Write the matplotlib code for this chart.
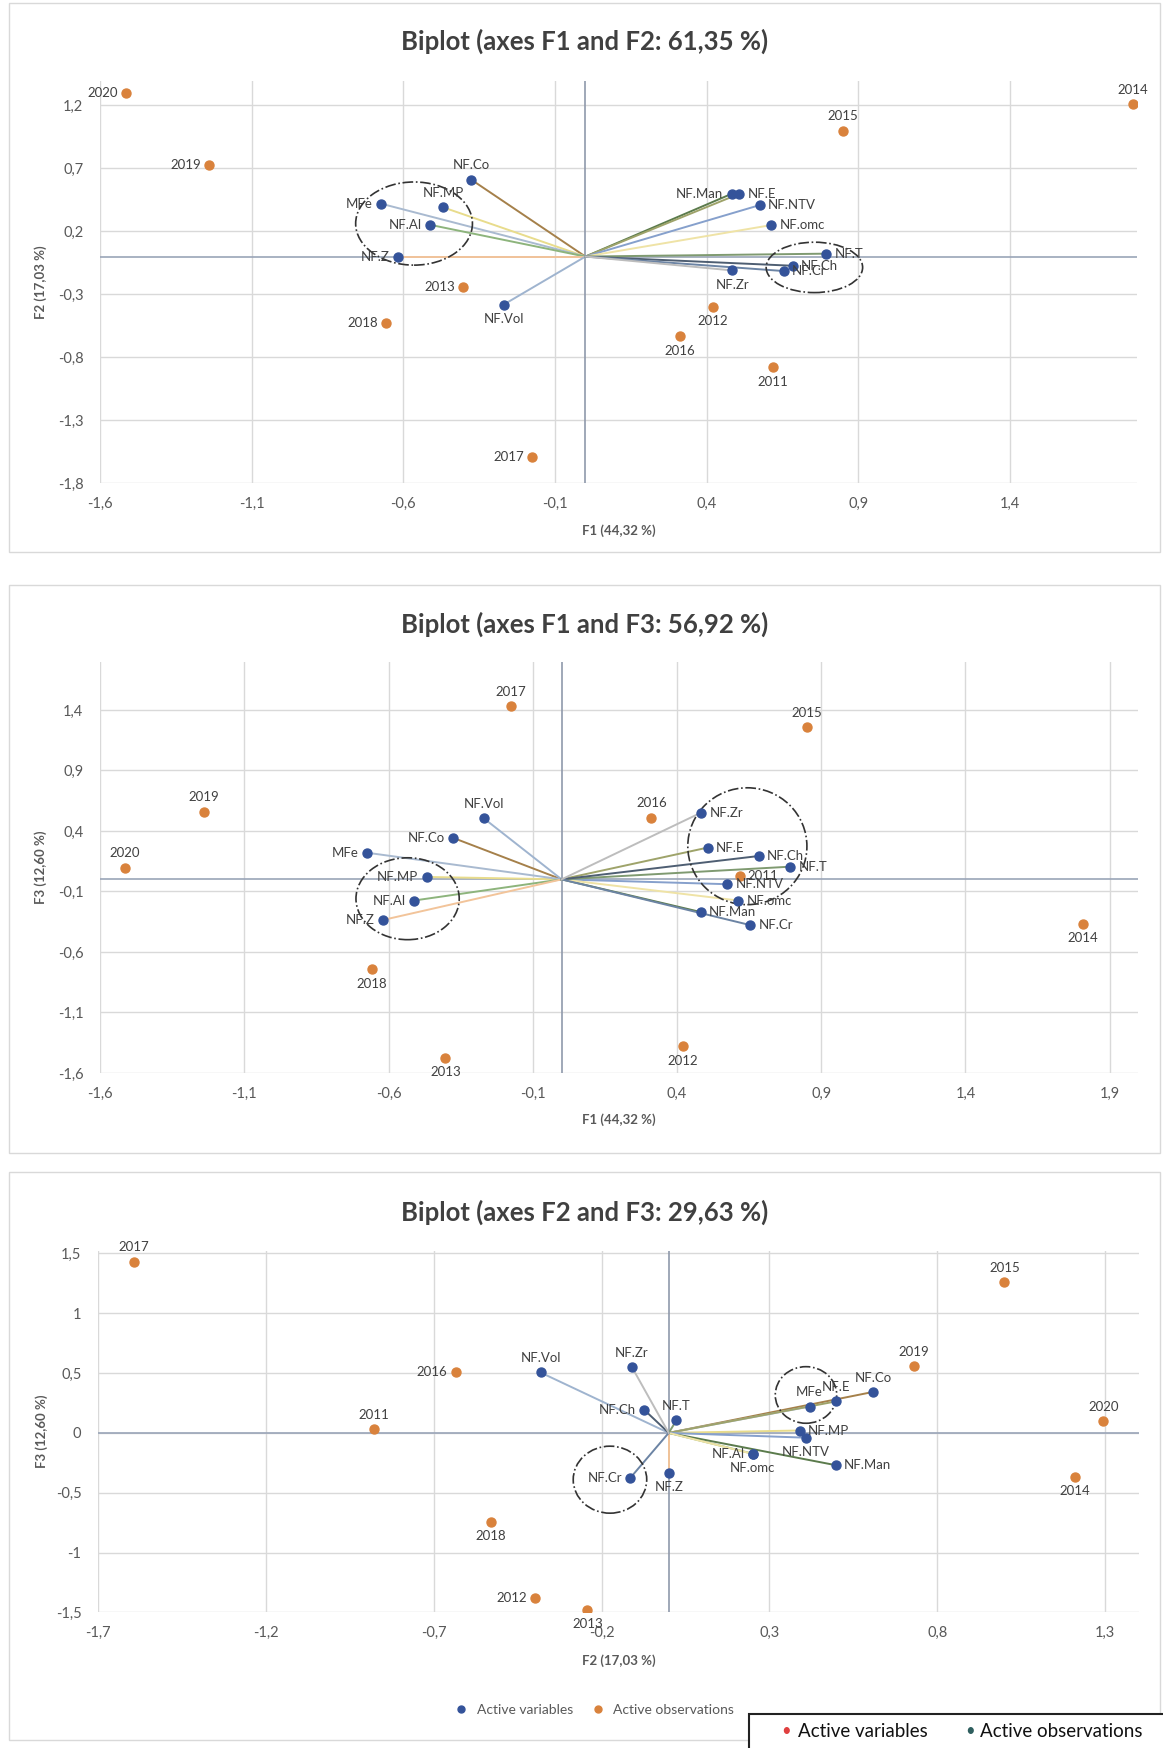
import numpy as np
import matplotlib
matplotlib.use("Agg")
import matplotlib.pyplot as plt
from matplotlib.patches import Ellipse, Rectangle
from matplotlib.lines import Line2D

plt.rcParams['font.family'] = ['Lato', 'DejaVu Sans']

# observations (years) on F1, F2, F3
obs = ['2011', '2012', '2013', '2014', '2015', '2016', '2017', '2018', '2019', '2020']
obs_f1 = [0.617, 0.420, -0.403, 1.806, 0.850, 0.311, -0.176, -0.657, -1.240, -1.515]
obs_f2 = [-0.879, -0.397, -0.242, 1.210, 1.000, -0.634, -1.594, -0.530, 0.730, 1.295]
obs_f3 = [0.030, -1.380, -1.478, -0.370, 1.258, 0.510, 1.430, -0.745, 0.560, 0.096]

# variables on F1, F2, F3
var = ['NF.Co', 'NF.MP', 'MFe', 'NF.Al', 'NF.Z', 'NF.Vol', 'NF.Man',
       'NF.E', 'NF.NTV', 'NF.omc', 'NF.T', 'NF.Ch', 'NF.Cr', 'NF.Zr']
var_f1 = [-0.376, -0.468, -0.674, -0.512, -0.618, -0.270, 0.482,
          0.507, 0.574, 0.613, 0.793, 0.683, 0.654, 0.484]
var_f2 = [0.610, 0.390, 0.420, 0.252, 0.000, -0.382, 0.498,
          0.498, 0.408, 0.250, 0.023, -0.073, -0.115, -0.110]
var_f3 = [0.343, 0.020, 0.220, -0.175, -0.335, 0.505, -0.270,
          0.263, -0.040, -0.175, 0.105, 0.193, -0.378, 0.552]

var_colors = ['#a5804a', '#e8dc8c', '#a9bad0', '#8db47c', '#f2c49a', '#9fb4cf', '#5b7b4c',
              '#9ea36a', '#86a0cc', '#efe3a6', '#7f9a70', '#4e5e72', '#6c84a4', '#bdbdbd']

blue = '#34539a'
orange = '#d9823c'
txt = '#404040'
grid = '#d9d9d9'

# label placement per panel: l / r / t / b
lab1 = {'2020': 'l', '2019': 'l', '2014': 't', '2015': 't', '2013': 'l', '2018': 'l',
        '2012': 'b', '2016': 'b', '2011': 'b', '2017': 'l',
        'NF.Co': 't', 'NF.MP': 't', 'MFe': 'l', 'NF.Al': 'l', 'NF.Z': 'l', 'NF.Vol': 'b',
        'NF.Man': 'l', 'NF.E': 'r', 'NF.NTV': 'r', 'NF.omc': 'r', 'NF.T': 'r',
        'NF.Ch': 'r', 'NF.Cr': 'r', 'NF.Zr': 'b'}
lab2 = {'2017': 't', '2015': 't', '2019': 't', '2016': 't', '2020': 't', '2011': 'r',
        '2014': 'b', '2018': 'b', '2012': 'b', '2013': 'b',
        'NF.Vol': 't', 'NF.Co': 'l', 'MFe': 'l', 'NF.MP': 'l', 'NF.Al': 'l', 'NF.Z': 'l',
        'NF.Zr': 'r', 'NF.E': 'r', 'NF.Ch': 'r', 'NF.T': 'r', 'NF.NTV': 'r',
        'NF.omc': 'r', 'NF.Man': 'r', 'NF.Cr': 'r'}
lab3 = {'2017': 't', '2016': 'l', '2011': 't', '2015': 't', '2019': 't', '2020': 't',
        '2014': 'b', '2018': 'b', '2012': 'l', '2013': 'b',
        'NF.Vol': 't', 'NF.Zr': 't', 'NF.Ch': 'l', 'NF.T': 't', 'NF.Cr': 'l', 'NF.Z': 'b',
        'NF.Al': 'l', 'NF.omc': 'b', 'MFe': 't', 'NF.E': 't', 'NF.Co': 't',
        'NF.MP': 'r', 'NF.NTV': 'b', 'NF.Man': 'r'}

offs = {'l': ((-6, 0), 'right', 'center'), 'r': ((6, 0), 'left', 'center'),
        't': ((0, 6), 'center', 'bottom'), 'b': ((0, -6), 'center', 'top')}


def fmt(v):
    return '{:g}'.format(round(v, 2)).replace('.', ',')


def biplot(ax, ox, oy, vx, vy, labs, xlim, ylim, xlabel, ylabel, ellipses, xlab_y, ylab_x):
    ax.set_xlim(*xlim)
    ax.set_ylim(*ylim)
    xt = np.round(np.arange(xlim[0], xlim[1] + 1e-6, 0.5), 2)
    yt = np.round(np.arange(ylim[0], ylim[1] + 1e-6, 0.5), 2)
    ax.set_xticks(xt)
    ax.set_yticks(yt)
    ax.set_xticklabels([fmt(v) for v in xt])
    ax.set_yticklabels([fmt(v) for v in yt])
    ax.tick_params(length=0, labelsize=10.5, labelcolor='#595959')
    ax.tick_params(axis='x', pad=10)
    ax.tick_params(axis='y', pad=12)
    for s in ax.spines.values():
        s.set_visible(False)
    ax.grid(True, color=grid, lw=1)
    ax.set_axisbelow(True)
    ax.axhline(0, color='#9aa5b8', lw=1.2, zorder=1)
    ax.axvline(0, color='#8f99ab', lw=1.2, zorder=1)

    for x, y, c in zip(vx, vy, var_colors):
        ax.plot([0, x], [0, y], color=c, lw=1.4, zorder=2)
    ax.scatter(vx, vy, s=42, color=blue, zorder=4)
    ax.scatter(ox, oy, s=42, color=orange, zorder=4)

    for names, xs, ys in ((var, vx, vy), (obs, ox, oy)):
        for n, x, y in zip(names, xs, ys):
            off, ha, va = offs[labs[n]]
            ax.annotate(n, (x, y), xytext=off, textcoords='offset points',
                        ha=ha, va=va, fontsize=9.5, color=txt, zorder=5)

    for cx, cy, w, h in ellipses:
        ax.add_patch(Ellipse((cx, cy), w, h, fill=False, ec='#333333', lw=1.2,
                             ls='-.', zorder=3))

    ax.set_xlabel(xlabel, fontsize=9.5, fontweight='bold', color='#595959')
    ax.set_ylabel(ylabel, fontsize=9.5, fontweight='bold', color='#595959')
    ax.xaxis.set_label_coords(0.5, xlab_y)
    ax.xaxis.label.set_va('center')
    ax.yaxis.set_label_coords(ylab_x, 0.5)
    ax.yaxis.label.set_va('center')


fig = plt.figure(figsize=(11.63, 17.48), dpi=100)

# panel frames
for y0, y1 in ((0.6842, 0.9983), (0.3404, 0.6653), (0.0046, 0.3295)):
    fig.add_artist(Rectangle((0.0077, y0), 0.9897, y1 - y0, transform=fig.transFigure,
                             fill=False, ec='#d9d9d9', lw=1))

ax1 = fig.add_axes([0.0861, 0.7235, 0.8919, 0.2299])
biplot(ax1, obs_f1, obs_f2, var_f1, var_f2, lab1, (-1.6, 1.82), (-1.8, 1.39),
       'F1 (44,32 %)', 'F2 (17,03 %)',
       [(-0.565, 0.262, 0.385, 0.66), (0.755, -0.086, 0.318, 0.40)], -0.119, -0.057)

ax2 = fig.add_axes([0.0861, 0.3862, 0.8928, 0.2353])
biplot(ax2, obs_f1, obs_f3, var_f1, var_f3, lab2, (-1.6, 2.0), (-1.6, 1.8),
       'F1 (44,32 %)', 'F3 (12,60 %)',
       [(-0.534, -0.16, 0.358, 0.677), (0.644, 0.274, 0.413, 0.966)], -0.113, -0.057)

ax3 = fig.add_axes([0.0844, 0.0776, 0.8946, 0.2067])
biplot(ax3, obs_f2, obs_f3, var_f2, var_f3, lab3, (-1.7, 1.4), (-1.5, 1.52),
       'F2 (17,03 %)', 'F3 (12,60 %)',
       [(0.409, 0.317, 0.183, 0.473), (-0.175, -0.391, 0.219, 0.56)], -0.133, -0.054)

for y, t in ((0.9765, 'Biplot (axes F1 and F2: 61,35 %)'),
             (0.6427, 'Biplot (axes F1 and F3: 56,92 %)'),
             (0.3066, 'Biplot (axes F2 and F3: 29,63 %)')):
    fig.text(0.503, y, t, ha='center', va='center', fontsize=18.5, fontweight='bold', color=txt)

handles = [Line2D([], [], ls='', marker='o', ms=5, color=blue, label='Active variables'),
           Line2D([], [], ls='', marker='o', ms=5, color=orange, label='Active observations')]
fig.legend(handles=handles, loc='center', bbox_to_anchor=(0.508, 0.022), ncol=2,
           frameon=False, fontsize=10, handletextpad=0.1, columnspacing=0.8,
           labelcolor='#595959')

# overlay legend box bottom right
fig.add_artist(Rectangle((0.644, -0.01), 0.37, 0.0295, transform=fig.transFigure,
                         fc='white', ec='#222222', lw=1.5, zorder=10))
fig.text(0.672, 0.0095, '\u2022', color='#e04040', fontsize=12, va='center', zorder=11)
fig.text(0.686, 0.0095, 'Active variables', color='#111111', fontsize=13.5, va='center', zorder=11)
fig.text(0.830, 0.0095, '\u2022', color='#2f5f5f', fontsize=12, va='center', zorder=11)
fig.text(0.843, 0.0095, 'Active observations', color='#111111', fontsize=13.5, va='center', zorder=11)

fig.savefig('out.png', dpi=100)
